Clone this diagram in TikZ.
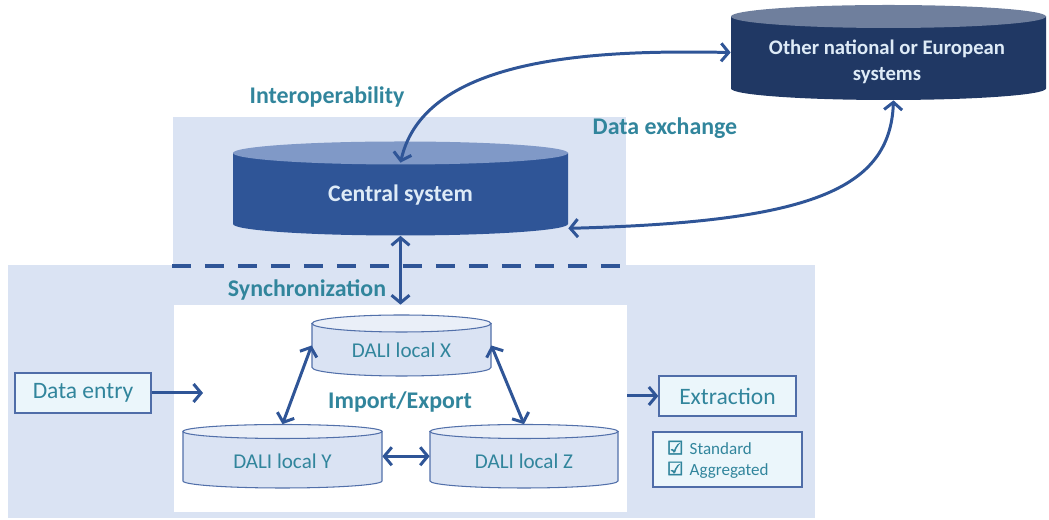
\documentclass[tikz,border=0pt]{standalone}
\usepackage{fontspec}
\setmainfont{Carlito}
\newfontfamily\symfont[FakeBold=2.5]{DejaVu Sans}
\usetikzlibrary{arrows.meta,positioning,calc}
\definecolor{panel}{RGB}{218,227,243}
\definecolor{tealtxt}{RGB}{49,133,156}
\definecolor{linkc}{RGB}{47,85,151}
\definecolor{cbody}{RGB}{47,85,151}
\definecolor{ctop}{RGB}{128,153,199}
\definecolor{obody}{RGB}{32,56,100}
\definecolor{otop}{RGB}{111,127,157}
\definecolor{dbody}{RGB}{218,227,243}
\definecolor{dtop}{RGB}{234,239,248}
\definecolor{dline}{RGB}{82,112,170}
\definecolor{boxfill}{RGB}{235,246,251}
\definecolor{boxline}{RGB}{79,109,168}
\definecolor{lighttxt}{RGB}{222,235,247}

\begin{document}
\begin{tikzpicture}[x=0.02cm,y=0.02cm,
    lbl/.style={font=\fontsize{13.6}{16}\selectfont\bfseries,text=tealtxt},
    boxed/.style={draw=boxline,fill=boxfill,line width=0.8pt,inner sep=0pt,
      font=\fontsize{13.4}{16}\selectfont,text=tealtxt},
    link/.style={draw=linkc,line width=1.7pt,
      {Straight Barb[length=1.5mm,width=3.6mm]}-{Straight Barb[length=1.5mm,width=3.6mm]}},
    linkto/.style={draw=linkc,line width=1.7pt,-{Straight Barb[length=1.5mm,width=3.6mm]}}]
  \useasboundingbox (0,0) rectangle (1049,520);

  % panels
  \fill[panel] (173,254) rectangle (626,403);
  \fill[panel] (8,2) rectangle (815,255);
  \draw[linkc,line width=2pt,dash pattern=on 0.38cm off 0.28cm] (172,254) -- (620,254);
  \node[fill=white,inner sep=0pt,minimum width=9.06cm,minimum height=4.14cm] (local) at (400.5,111.5) {};

  % dark cylinders
  \foreach \nm/\cx/\rx/\yt/\yb/\ry/\body/\top in {
    central/400.5/167.5/367/296/11.5/cbody/ctop,
    other/888.5/157.5/503.5/431.5/11.5/obody/otop}{
    \fill[\body] (\cx-\rx,\yt) -- (\cx-\rx,\yb)
      arc[start angle=180,end angle=360,x radius=\rx,y radius=\ry] -- (\cx+\rx,\yt) -- cycle;
    \fill[\top] (\cx,\yt) ellipse[x radius=\rx,y radius=\ry];
    \node[inner sep=0pt,minimum width={2*\rx*0.02cm},minimum height={(\yt-\yb+2*\ry)*0.02cm}]
      (\nm) at (\cx,{(\yt+\yb)/2}) {};
  }
  \node[font=\fontsize{13.5}{16}\selectfont\bfseries,text=lighttxt] (central-txt) at (400.5,325) {Central system};
  \node[font=\fontsize{11.8}{14.6}\selectfont\bfseries,text=lighttxt,align=center] (other-txt) at (887,458)
    {Other national or European\\systems};

  % local DALI cylinders
  \foreach \nm/\cx/\rx/\yt/\yb/\ry/\txt in {
    dalix/401.5/89.5/196.5/152.5/8.5/DALI local X,
    daliy/282.5/99.5/88.5/39/7/DALI local Y,
    daliz/524/94/88.5/39/7/DALI local Z}{
    \filldraw[fill=dbody,draw=dline,line width=0.6pt] (\cx-\rx,\yt) -- (\cx-\rx,\yb)
      arc[start angle=180,end angle=360,x radius=\rx,y radius=\ry] -- (\cx+\rx,\yt) -- cycle;
    \filldraw[fill=dtop,draw=dline,line width=0.6pt] (\cx,\yt) ellipse[x radius=\rx,y radius=\ry];
    \node[inner sep=0pt,minimum width={2*\rx*0.02cm},minimum height={(\yt-\yb+2*\ry)*0.02cm}]
      (\nm) at (\cx,{(\yt+\yb)/2}) {};
    \node[font=\fontsize{12}{14}\selectfont,text=tealtxt] (\nm-txt) at ([yshift=-0.1cm]\nm) {\txt};
  }

  % boxes
  \node[boxed,minimum width=2.72cm,minimum height=0.8cm] (entry) at (83,127) {Data entry};
  \node[boxed,minimum width=2.74cm,minimum height=0.8cm] (extract) at (727.5,124) {Extraction};
  \node[boxed,text width=2.42cm,inner xsep=0.28cm,minimum height=1.1cm,align=left,
    font=\fontsize{9.7}{11.9}\selectfont] (legend) at (727.5,60.5)
    {{\symfont\fontsize{10.5}{11.9}\selectfont ☑}\hspace{3.5pt}Standard\\
     {\symfont\fontsize{10.5}{11.9}\selectfont ☑}\hspace{3.5pt}Aggregated};

  % labels
  \node[lbl] (interop) at (327,423) {Interoperability};
  \node[lbl] (exchange) at (665,392) {Data exchange};
  \node[lbl] (sync) at (307,230) {Synchronization};
  \node[lbl] (impexp) at (400,118) {Import/Export};

  % connectors
  \coordinate (cstop) at ([yshift=-0.43cm]central.north);
  \coordinate (entryend) at (203,127);
  \draw[link] (cstop) .. controls (425,465) and (600,470) .. (other.west);
  \draw[link] ([yshift=0.15cm]central.south east) .. controls (810,298) and (890,330) .. ([xshift=0.1cm]other.south);
  \draw[link] (central.south) -- (central.south |- local.north);
  \draw[link] (dalix.west) -- (daliy.north);
  \draw[link] (dalix.east) -- (daliz.north);
  \draw[link] (daliy.east) -- (daliz.west);
  \draw[linkto] (entry.east) -- (entryend);
  \draw[linkto] (extract.west -| local.east) -- (extract.west);
\end{tikzpicture}
\end{document}
